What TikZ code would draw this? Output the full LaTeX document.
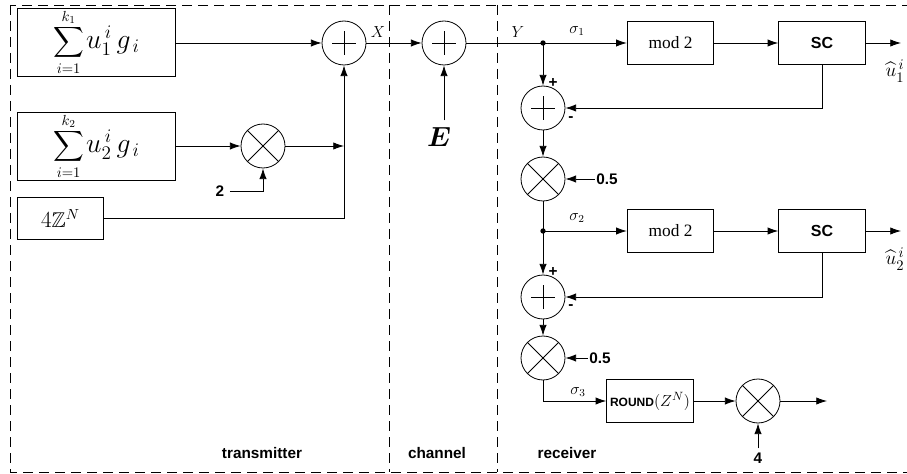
\documentclass[tikz,border=0pt]{standalone}
\usepackage{amsmath}
\usepackage{amssymb}
\usepackage{fontspec}
\setmainfont{Liberation Serif}
\setsansfont{Liberation Sans}
\usetikzlibrary{arrows.meta}

\begin{document}
\begin{tikzpicture}[x=0.75pt,y=-0.75pt, line width=0.6pt,
    >={Latex[length=8pt,width=5.5pt]},
    block/.style={draw, minimum width=65pt, minimum height=32pt, inner sep=0pt, font=\fontsize{13}{15}\selectfont},
    sumbox/.style={draw, minimum width=119pt, minimum height=51pt, inner sep=0pt},
    adder/.style={circle, draw, minimum size=33pt, inner sep=0pt,
        path picture={\draw ([xshift=-9pt]path picture bounding box.center) -- ([xshift=9pt]path picture bounding box.center)
            ([yshift=-9pt]path picture bounding box.center) -- ([yshift=9pt]path picture bounding box.center);}},
    mixer/.style={circle, draw, minimum size=33pt, inner sep=0pt,
        path picture={\draw (path picture bounding box.north west) -- (path picture bounding box.south east)
            (path picture bounding box.south west) -- (path picture bounding box.north east);}},
    lbl/.style={font=\sffamily\bfseries\fontsize{11.5}{13}\selectfont, inner sep=1pt},
    sym/.style={font=\fontsize{12}{14}\selectfont, inner sep=1pt},
    region/.style={dash pattern=on 7.5pt off 4.5pt}]
    \useasboundingbox (0,0) rectangle (907,474);
    % dashed regions
    \draw[region] (10,5) rectangle (930,472);
    \draw[region] (389,5) -- (389,472);
    \draw[region] (497,5) -- (497,472);
    \node[lbl] (txlabel) at (262,453) {transmitter};
    \node[lbl] (chlabel) at (437,453) {channel};
    \node[lbl] (rxlabel) at (567,453) {receiver};
    % transmitter
    \node[sumbox] (sumA) at (96.5,42) {{\fontsize{16}{18}\selectfont$\displaystyle\sum_{i=1}^{k_1}$}\,{\fontsize{21}{23}\selectfont$u_1^{\,i}\,g_{\,i}$}};
    \node[sumbox] (sumB) at (96.5,146) {{\fontsize{16}{18}\selectfont$\displaystyle\sum_{i=1}^{k_2}$}\,{\fontsize{21}{23}\selectfont$u_2^{\,i}\,g_{\,i}$}};
    \node[block, font=\fontsize{16}{18}\selectfont] (lat) at (60.5,218.5) {$4\mathbb{Z}^N$};
    \node[mixer] (mulT) at (263,146) {};
    \node[adder] (addX) at (344,43) {};
    \node[lbl] (two) at (220,191) {2};
    \draw[->] (sumA.east |- addX) -- (addX.west);
    \draw[->] (sumB.east) -- (mulT.west);
    \draw[->] ([xshift=3pt]two.east) -| (mulT.south);
    \coordinate (meet) at (344,146);
    \draw[->] (mulT.east) -- (meet);
    \draw[->] (lat.east) -| (addX.south);
    \node[sym] (xlab) at (378,32) {$X$};
    % channel
    \node[adder] (addY) at (444,43) {};
    \node[font=\fontsize{22}{24}\selectfont, inner sep=1pt] (noise) at (439,137) {$\boldsymbol{E}$};
    \draw[->] (addX.east) -- (addY.west);
    \draw[->] ([yshift=4pt]noise.north -| addY) -- (addY.south);
    % receiver, first stage
    \coordinate (j1) at (543,43);
    \node[sym] (ylab) at (518,32) {$Y$};
    \node[sym] (s1) at (577,31) {$\sigma_1$};
    \node[block] (mod1) at (670.5,43) {mod 2};
    \node[block, font=\sffamily\bfseries\fontsize{12}{14}\selectfont] (sc1) at (822,43) {SC};
    \coordinate (out1) at (901,43);
    \node[font=\fontsize{15}{17}\selectfont, inner sep=0pt] (hat1) at (895,71) {$\widehat{u}_1^{\,i}$};
    \node[adder] (sub1) at (543,108) {};
    \node[mixer] (half1) at (543,179) {};
    \node[lbl] (fiveA) at (607,179) {0.5};
    \node[lbl] (plus1) at (553,83) {+};
    \node[lbl] (minus1) at (571,119) {-};
    \draw (addY.east) -- (j1);
    \fill (j1) circle (2pt);
    \draw[->] (j1) -- (mod1.west);
    \draw[->] (mod1.east) -- (sc1.west);
    \draw[->] (sc1.east) -- (out1);
    \draw[->] (j1) -- (sub1.north);
    \draw[->] (sc1.south) |- (sub1.east);
    \draw[->] (sub1.south) -- (half1.north);
    \draw[->] (fiveA.west) -- (half1.east);
    % second stage
    \coordinate (j2) at (543,231);
    \node[sym] (s2) at (577,218) {$\sigma_2$};
    \node[block] (mod2) at (670.5,231) {mod 2};
    \node[block, font=\sffamily\bfseries\fontsize{12}{14}\selectfont] (sc2) at (822,231) {SC};
    \coordinate (out2) at (901,231);
    \node[font=\fontsize{15}{17}\selectfont, inner sep=0pt] (hat2) at (895,259) {$\widehat{u}_2^{\,i}$};
    \node[adder] (sub2) at (543,297) {};
    \node[mixer] (half2) at (543,358) {};
    \node[lbl] (fiveB) at (600,358) {0.5};
    \node[lbl] (plus2) at (553,272) {+};
    \node[lbl] (minus2) at (571,307) {-};
    \draw (half1.south) -- (j2);
    \fill (j2) circle (2pt);
    \draw[->] (j2) -- (mod2.west);
    \draw[->] (mod2.east) -- (sc2.west);
    \draw[->] (sc2.east) -- (out2);
    \draw[->] (j2) -- (sub2.north);
    \draw[->] (sc2.south) |- (sub2.east);
    \draw[->] (sub2.south) -- (half2.north);
    \draw[->] (fiveB.west) -- (half2.east);
    % rounding
    \node[block] (rnd) at (650,401) {{\sffamily\bfseries\fontsize{9}{10}\selectfont ROUND}$(Z^N)$};
    \node[sym] (s3) at (578,392) {$\sigma_3$};
    \node[mixer] (mulR) at (758,401) {};
    \node[lbl] (four) at (758,458) {4};
    \coordinate (out3) at (827,401);
    \draw[->] (half2.south) |- (rnd.west);
    \draw[->] (rnd.east) -- (mulR.west);
    \draw[->] (mulR.east) -- (out3);
    \draw[->] ([yshift=2pt]four.north) -- (mulR.south);
\end{tikzpicture}
\end{document}
